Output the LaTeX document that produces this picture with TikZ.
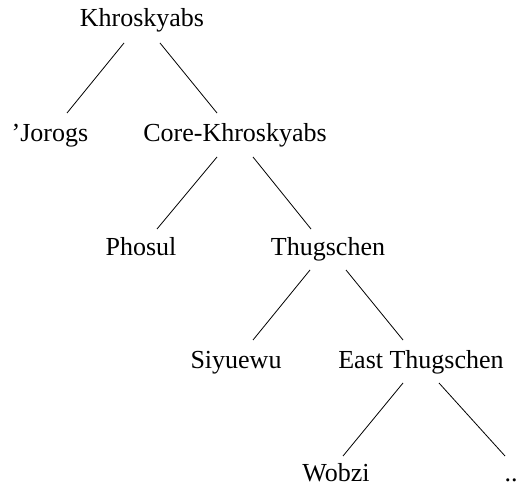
\documentclass[tikz,border=0pt]{standalone}
\usepackage{fontspec}
\setmainfont{Liberation Serif}
\begin{document}
\begin{tikzpicture}[x=1bp,y=-1bp,
  lbl/.style={anchor=base,inner sep=0pt,font=\fontsize{26bp}{30bp}\selectfont},
  edge/.style={draw=black,line width=0.8bp}]
\useasboundingbox (0,0) rectangle (519,487);
\node[lbl] (k) at (142,27) {Khroskyabs};
\node[lbl] (j) at (50,142) {'Jorogs};
\node[lbl] (c) at (235,142) {Core-Khroskyabs};
\node[lbl] (p) at (141,255) {Phosul};
\node[lbl] (t) at (328,255) {Thugschen};
\node[lbl] (s) at (236,368) {Siyuewu};
\node[lbl] (e) at (421,368) {East Thugschen};
\node[lbl] (w) at (336,481) {Wobzi};
\node[lbl] (d) at (511,481) {..};
\draw[edge] ([shift={(-18,16)}]k.base) -- ([shift={(17,-29)}]j.base);
\draw[edge] ([shift={(18,16)}]k.base) -- ([shift={(-18,-29)}]c.base);
\draw[edge] ([shift={(-18,15)}]c.base) -- ([shift={(16,-26)}]p.base);
\draw[edge] ([shift={(18,15)}]c.base) -- ([shift={(-17,-26)}]t.base);
\draw[edge] ([shift={(-18,15)}]t.base) -- ([shift={(17,-28)}]s.base);
\draw[edge] ([shift={(18,15)}]t.base) -- ([shift={(-18,-28)}]e.base);
\draw[edge] ([shift={(-18,15)}]e.base) -- ([shift={(7,-25)}]w.base);
\draw[edge] ([shift={(18,15)}]e.base) -- ([shift={(-6,-25)}]d.base);
\end{tikzpicture}
\end{document}
